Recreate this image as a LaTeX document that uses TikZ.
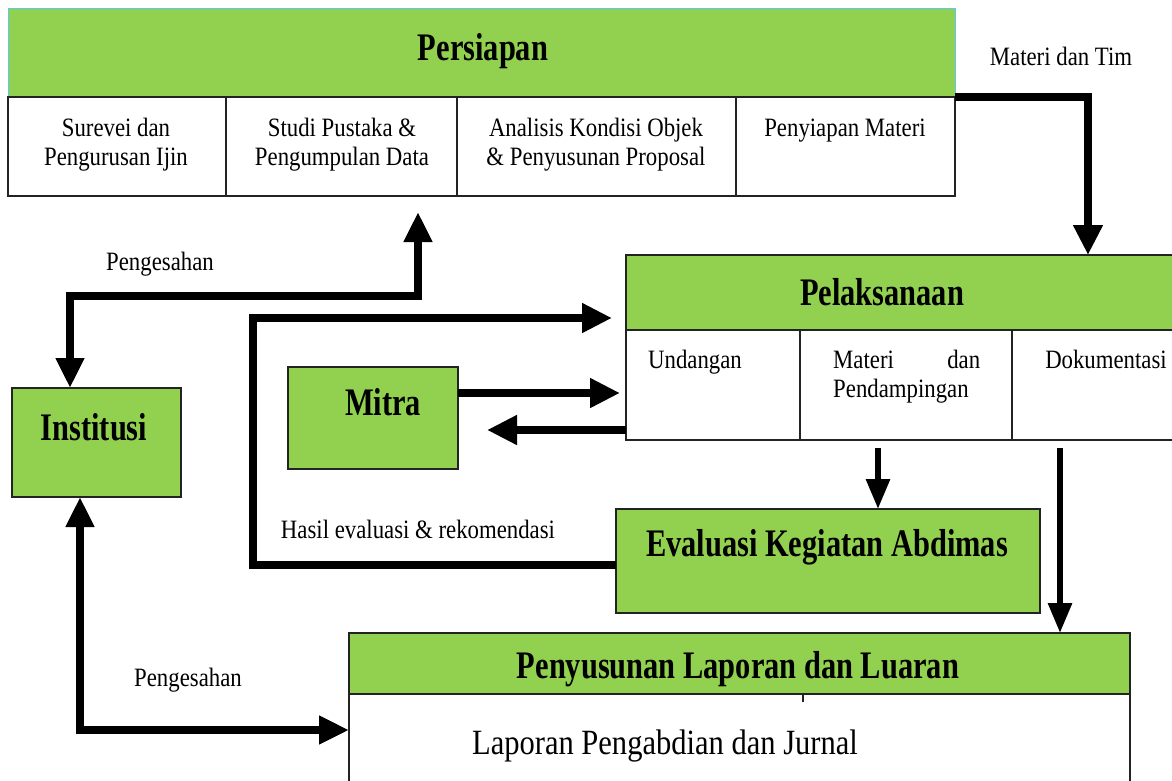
\documentclass[tikz,border=0pt]{standalone}
\usepackage{fontspec}
\setmainfont{Liberation Serif}
\newfontfamily\rc[FakeStretch=0.86]{Liberation Serif}
\newfontfamily\bc[FakeStretch=0.78]{Liberation Serif}
\usetikzlibrary{arrows.meta}
\definecolor{lgreen}{RGB}{146,208,80}
\definecolor{edge}{RGB}{35,35,35}
\definecolor{lblue}{RGB}{90,200,240}
\tikzset{
  gbox/.style={draw=edge, line width=1.3pt, fill=lgreen, inner sep=0pt, outer sep=0pt},
  wbox/.style={draw=edge, line width=1.3pt, fill=white, inner sep=0pt, outer sep=0pt},
  ttl/.style={font=\bc\bfseries\fontsize{39}{44}\selectfont, inner sep=0pt, anchor=base},
  txt/.style={font=\rc\fontsize{26.5}{29}\selectfont, inner sep=0pt, anchor=base},
  big/.style={line width=8pt, line join=miter, arrows={-Triangle[length=30pt,width=28pt]}},
  bigboth/.style={line width=7.5pt, line join=miter, arrows={Triangle[length=30pt,width=27pt]-Triangle[length=30pt,width=27pt]}},
  med/.style={line width=6pt, arrows={-Triangle[length=30pt,width=23pt]}}
}
\begin{document}
\begin{tikzpicture}[x=1pt,y=-1pt]
\useasboundingbox[fill=white] (0,0) rectangle (1172,780);

% Persiapan
\node[gbox, draw=lblue, line width=0.8pt, minimum width=947pt, minimum height=89pt] (persH) at (481.5,52.5) {};
\node[wbox, minimum width=218pt, minimum height=99pt] (c1) at (117,146.5) {};
\node[wbox, minimum width=231pt, minimum height=99pt] (c2) at (341.5,146.5) {};
\node[wbox, minimum width=279pt, minimum height=99pt] (c3) at (596.5,146.5) {};
\node[wbox, minimum width=219pt, minimum height=99pt] (c4) at (845.5,146.5) {};
\draw[line width=2.5pt, edge] (persH.south west) -- (persH.south east);
\node[ttl] (tPers) at (483,60) {Persiapan};
\node[txt] (c1a) at (116,136) {Surevei dan};
\node[txt] (c1b) at (116,165) {Pengurusan Ijin};
\node[txt] (c2a) at (342,136) {Studi Pustaka \&};
\node[txt] (c2b) at (342,165) {Pengumpulan Data};
\node[txt] (c3a) at (596,136) {Analisis Kondisi Objek};
\node[txt] (c3b) at (596,165) {\& Penyusunan Proposal};
\node[txt] (c4a) at (845,136) {Penyiapan Materi};

% Pelaksanaan
\node[gbox, minimum width=549pt, minimum height=75pt] (pelH) at (900.5,292.5) {};
\node[wbox, minimum width=174pt, minimum height=110pt] (p1) at (713,385) {};
\node[wbox, minimum width=212pt, minimum height=110pt] (p2) at (906,385) {};
\node[wbox, minimum width=163pt, minimum height=110pt] (p3) at (1093.5,385) {};
\node[ttl] (tPel) at (882,305) {Pelaksanaan};
\node[txt, anchor=base west] (p1a) at (648,368) {Undangan};
\node[txt, anchor=base west, text width=147pt, align=left] (p2a) at (833,368) {Materi\hfill dan};
\node[txt, anchor=base west] (p2b) at (833,397) {Pendampingan};
\node[txt] (p3a) at (1106,368) {Dokumentasi};

% Institusi, Mitra
\node[gbox, minimum width=169pt, minimum height=109pt] (inst) at (96.5,442.5) {};
\node[ttl] (tInst) at (94,440) {Institusi};
\node[gbox, minimum width=170pt, minimum height=102pt] (mitra) at (373,418) {};
\node[ttl] (tMitra) at (383,415) {Mitra};

% Evaluasi
\node[gbox, minimum width=424pt, minimum height=104pt] (eval) at (828,561) {};
\node[ttl] (tEval) at (827,556) {Evaluasi Kegiatan Abdimas};

% Penyusunan
\node[wbox, minimum width=781pt, minimum height=110pt] (penRow) at (739.5,749) {};
\node[gbox, minimum width=781pt, minimum height=61pt] (penH) at (739.5,663.5) {};
\draw[edge, line width=1.2pt] (penH.south) ++(63.5,0) -- ++(0,8);
\node[ttl] (tPen) at (738,678) {Penyusunan Laporan dan Luaran};
\node[font=\rc\fontsize{35.5}{40}\selectfont, inner sep=0pt, anchor=base] (tLap) at (665,754) {Laporan Pengabdian dan Jurnal};

% labels
\node[txt] (lMT) at (1061,65) {Materi dan Tim};
\node[txt] (lP1) at (160,270) {Pengesahan};
\node[txt] (lHE) at (418,538) {Hasil evaluasi \& rekomendasi};
\node[txt] (lP2) at (188,686) {Pengesahan};

% connectors
\draw[big] (persH.south east) -| ([xshift=187.5pt]pelH.north);

\coordinate (pA) at (418,212);
\coordinate (k1) at (70,296);
\draw[bigboth] (pA) |- (k1) -- (k1 |- inst.north);

\coordinate (h1) at (253,318);
\coordinate (hT) at (612,318);
\draw[big] ([yshift=-4pt]eval.west) -| (h1) -- (hT);

\coordinate (m1) at (620,393);
\draw[big] (mitra.east |- m1) -- (m1);
\coordinate (m3) at (487,430);
\draw[big] (p1.west |- m3) -- (m3);

\coordinate (d1) at (878,448);
\draw[med] (d1) -- (d1 |- eval.north);
\coordinate (d2) at (1060,448);
\draw[med] (d2) -- (d2 |- penH.north);

\coordinate (b1) at (80,730);
\draw[bigboth] (b1 |- inst.south) -- (b1) -- (penRow.west |- b1);
\end{tikzpicture}
\end{document}
